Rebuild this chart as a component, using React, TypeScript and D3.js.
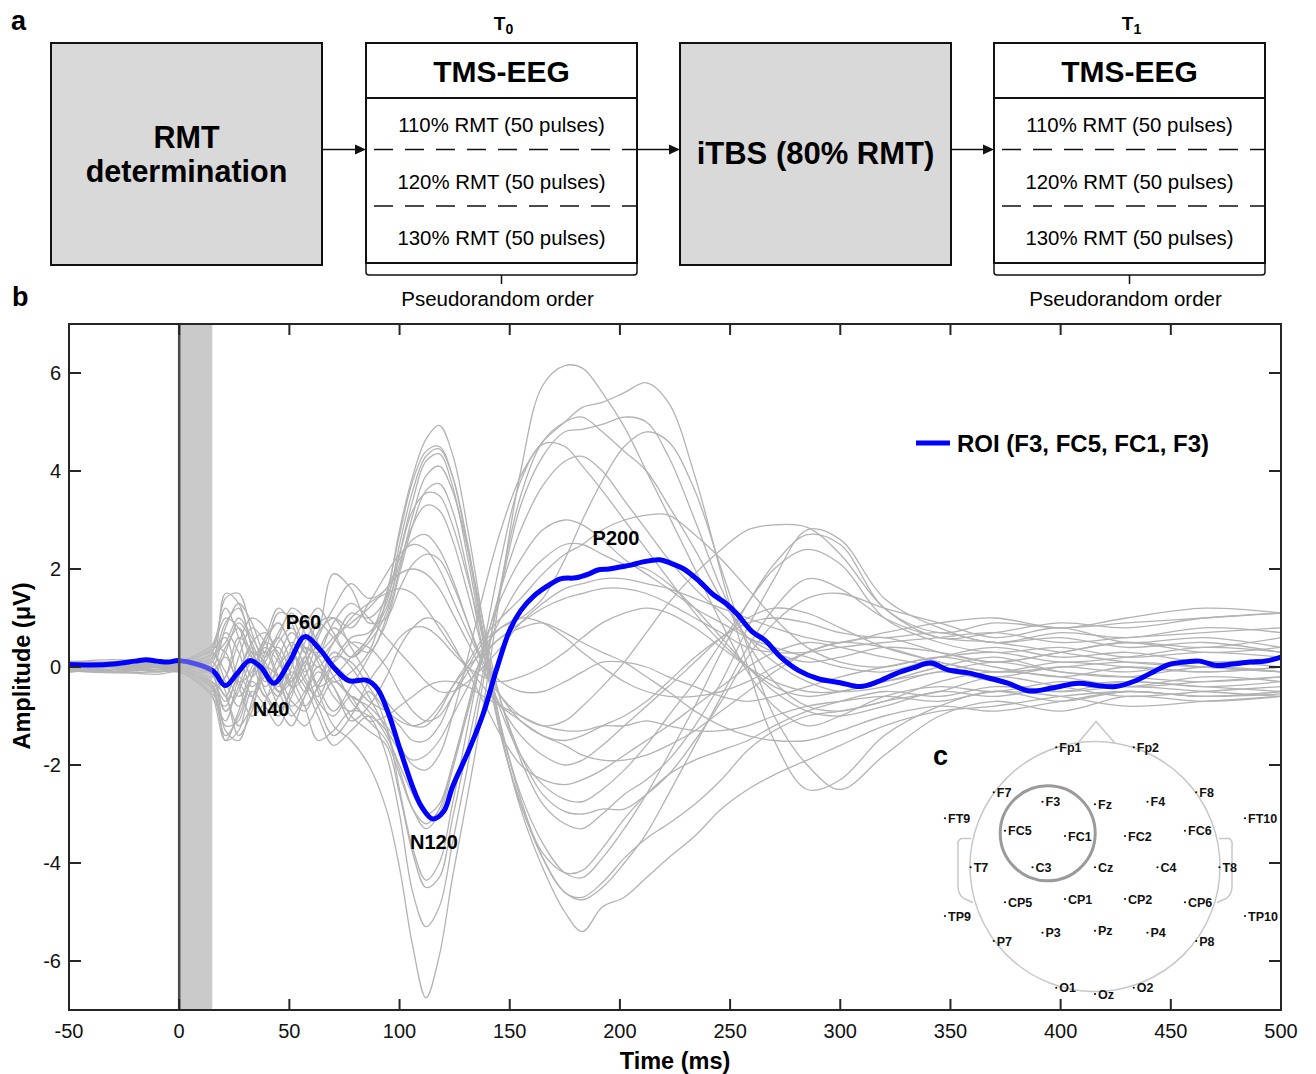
import React from "react";
import * as d3 from "d3";

const W = 1316;
const H = 1074;
const FONT = "'Liberation Sans', Arial, Helvetica, sans-serif";

// ---------- EEG data ----------
const TIMES = [-50, -30, -10, 0, 8, 15, 21, 27, 33, 39, 45, 51, 57, 63, 70, 78, 86, 94, 100, 106, 112, 118, 124, 131, 138, 146, 155, 165, 175, 183, 192, 202, 212, 222, 234, 246, 258, 270, 285, 300, 320, 345, 370, 400, 430, 465, 500];

const channelTraces: number[][] = [
  [0.05,-0.05,0.1,0.05, -0.15,-0.35,-0.9,-0.4,0.3,0.1,-0.5,-0.2,0.4,0.2,-0.3,-0.1,0.3,1.4, 2.8,3.9,4.65,4.93,4.35,2.8,0.9, -1.3,-2.9,-4.1,-5.0,-5.4,-4.9,-4.7,-4.3,-3.9, -3.45,-2.9,-2.5,-2.2,-1.9,-1.6, -1.2,-0.9,-0.8,-0.6,-0.5,-0.6,-0.55],
  [-0.05,0.0,0.08,0.1, 0.1,0.2,0.9,1.2,0.4,-0.3,0.2,0.7,0.3,-0.4,-0.2,0.2,0.6,1.5, 2.7,3.8,4.4,4.5,3.9,2.4,0.6, -1.4,-2.8,-3.9,-4.6,-4.75,-4.5,-4.0,-3.4,-2.6, -1.6,-0.6,0.4,1.2,1.8,1.6, 1.0,0.6,0.5,0.3,0.1,0.0,-0.1],
  [0.1,0.05,-0.05,0.0, -0.2,-0.45,-1.4,-1.0,-0.2,0.5,0.9,0.4,-0.3,-0.6,0.1,0.6,0.7,1.3, 2.5,3.6,4.3,4.45,3.9,2.5,0.7, -1.2,-2.7,-3.9,-4.6,-4.7,-4.4,-3.9,-3.5,-3.2, -2.8,-2.3,-1.7,-1.3,-1.0,-0.9, -0.7,-0.3,-0.1,-0.2,-0.4,-0.3,-0.2],
  [-0.1,-0.05,0.0,-0.05, 0.1,0.3,1.4,1.5,0.7,0.0,-0.5,-0.3,0.5,0.9,0.6,0.2,0.5,1.1, 2.3,3.4,4.2,4.35,3.7,2.2,0.5, -1.2,-2.6,-3.6,-4.2,-4.3,-3.9,-3.3,-2.6,-1.8, -0.8,0.3,1.3,2.1,2.7,2.5, 1.2,0.7,0.9,0.8,0.9,1.0,1.1],
  [0.0,0.1,0.05,0.05, 0.0,-0.1,-0.6,0.2,0.8,0.5,-0.2,-0.8,-0.5,0.3,0.8,0.5,0.3,1.0, 2.0,3.1,3.9,4.1,3.6,2.4,0.9, -0.7,-1.9,-2.8,-3.2,-3.3,-3.0,-2.6,-2.3,-1.9, -1.2,-0.3,0.8,1.8,2.8,2.6, 1.4,0.8,0.5,0.7,0.6,0.8,0.7],
  [0.08,0.0,-0.1,-0.08, -0.3,-0.6,-1.5,-1.3,-0.5,-0.8,-1.2,-0.6,0.1,-0.4,-0.9,-0.4,0.2,0.9, 1.9,2.9,3.6,3.74,3.2,1.9,0.3, -1.4,-2.8,-3.8,-4.2,-4.15,-3.7,-3.1,-2.6,-2.2, -1.9,-1.7,-1.5,-1.2,-0.9,-0.7, -0.5,-0.6,-0.4,-0.5,-0.3,-0.4,-0.3],
  [0.12,0.1,0.15,0.1, 0.25,0.45,1.2,0.6,-0.2,0.3,1.1,1.0,0.4,0.0,0.5,1.1,1.0,1.4, 2.3,3.2,3.55,3.5,2.9,1.8,0.6, -0.7,-1.8,-2.6,-2.95,-3.0,-2.9,-2.9,-2.6,-2.2, -1.5,-0.7,0.2,0.9,1.4,1.5, 1.2,0.9,0.6,0.8,0.5,0.6,0.4],
  [-0.05,0.05,0.0,0.0, -0.1,-0.2,0.3,0.9,0.5,-0.2,-0.6,0.0,0.8,1.2,0.7,0.2,0.6,1.2, 2.1,2.9,3.3,3.2,2.6,1.5,0.3, -0.9,-1.8,-2.4,-2.7,-2.75,-2.5,-2.1,-1.6,-1.0, -0.3,0.5,1.3,2.0,2.4,2.1, 1.0,0.5,0.3,0.4,0.2,0.3,0.2],
  [0.0,-0.08,-0.05,0.0, -0.2,-0.4,-0.2,0.5,1.0,0.8,0.2,-0.4,-0.2,0.6,1.2,1.7,1.4,1.6, 2.2,2.6,2.7,2.4,1.8,0.9,0.0, -0.8,-1.4,-1.8,-2.0,-1.9,-1.6,-1.2,-0.8,-0.4, 0.1,0.6,1.0,1.2,1.1,0.8, 0.4,0.1,-0.1,0.1,0.0,-0.1,0.0],
  [0.05,0.1,0.0,0.05, 0.2,0.4,1.0,0.8,0.2,0.6,1.2,0.9,0.3,0.7,1.9,1.6,0.9,1.0, 1.6,2.1,2.3,2.2,1.7,0.9,0.1, -0.6,-1.1,-1.4,-1.5,-1.4,-1.2,-1.0,-0.7,-0.3, 0.2,0.6,0.9,1.0,0.9,0.7, 0.6,0.7,0.5,0.6,0.4,0.5,0.3],
  [0.0,0.05,-0.1,-0.05, -0.2,-0.4,-1.2,-1.1,-0.3,-0.6,-1.0,-0.4,0.2,-0.5,-1.2,-1.5,-2.0,-2.9, -4.1,-5.7,-6.75,-5.9,-4.3,-2.6,-0.8, 1.6,4.0,5.75,6.15,6.1,5.6,4.9,4.0,3.1, 2.0,0.9,-0.1,-0.8,-1.2,-1.0, -0.6,-0.4,-0.5,-0.3,-0.4,-0.2,-0.3],
  [-0.05,0.0,0.05,0.0, 0.0,0.1,-0.5,-1.4,-0.9,0.1,0.4,-0.2,-0.8,-1.5,-1.3,-0.9,-1.0,-1.8, -3.0,-4.6,-5.3,-4.9,-3.6,-2.0,-0.3, 1.7,3.5,4.6,5.0,5.1,4.8,4.4,4.0,3.3, 2.4,1.4,0.6,0.1,-0.3,-0.5, -0.4,-0.1,-0.3,-0.5,-0.4,-0.5,-0.6],
  [0.1,0.0,0.05,0.08, 0.0,-0.15,-0.9,-0.5,0.1,-0.2,-0.8,-1.2,-0.6,0.0,-0.4,-1.0,-1.3,-1.6, -2.6,-3.8,-4.5,-4.3,-3.1,-1.6,-0.1, 1.6,3.3,4.3,4.8,4.85,4.95,5.1,5.0,4.3, 3.0,1.6,0.5,-0.3,-0.8,-0.9, -0.7,-0.5,-0.2,-0.4,-0.6,-0.5,-0.4],
  [-0.08,-0.1,0.0,-0.1, -0.3,-0.6,-1.1,-0.2,0.4,-0.1,-0.4,0.2,0.6,0.1,-0.6,-0.9,-0.5,-1.2, -2.5,-3.7,-4.35,-4.0,-2.8,-1.2,0.4, 2.2,3.8,4.55,4.5,4.1,3.6,3.0,2.4,1.8, 1.1,0.5,0.0,-0.4,-0.6,-0.5, -0.3,0.0,0.2,-0.1,-0.2,0.0,-0.1],
  [0.05,0.08,0.1,0.05, 0.2,0.35,0.6,-0.3,-0.6,0.2,0.6,0.1,-0.5,-0.3,0.3,0.0,-0.6,-1.3, -2.1,-2.9,-3.3,-3.0,-2.1,-0.9,0.3, 1.6,2.8,3.7,4.2,4.3,4.0,3.4,2.8,2.2, 1.6,1.1,0.6,0.3,0.1,0.2, 0.4,0.3,0.1,0.3,0.5,0.4,0.6],
  [-0.1,-0.05,-0.08,-0.1, -0.25,-0.5,-0.2,0.6,0.3,-0.5,-0.9,-0.5,0.1,0.4,0.0,-0.7,-1.1,-1.5, -2.2,-2.9,-3.2,-2.9,-2.0,-0.8,0.4, 1.4,2.2,2.8,3.0,2.9,2.6,2.2,1.9,1.6, 1.2,0.9,0.6,0.4,0.2,0.0, -0.1,0.2,0.4,0.2,0.3,0.1,0.2],
  [0.0,0.0,0.05,0.02, 0.1,0.15,1.5,1.3,0.4,-0.4,0.0,0.5,0.0,-0.7,-1.0,-0.6,-0.9,-1.4, -2.0,-2.6,-3.0,-2.8,-2.0,-0.9,0.2, 1.0,1.7,2.2,2.5,2.5,2.3,2.1,2.0,1.7, 1.2,0.6,0.0,-0.5,-0.9,-1.0, -0.8,-0.5,-0.6,-0.4,-0.3,-0.4,-0.5],
  [0.05,0.0,0.0,0.05, 0.0,-0.1,0.4,0.8,0.2,-0.6,-0.3,0.4,0.9,0.5,-0.2,-0.6,-0.8,-1.2, -1.6,-2.0,-2.1,-1.8,-1.0,0.2,1.5, 2.8,3.9,4.6,5.0,5.3,5.4,5.6,5.8,5.4, 3.9,1.9,0.0,-1.5,-2.5,-2.3, -1.4,-0.8,-0.5,-0.7,-0.5,-0.6,-0.5],
  [-0.05,-0.1,-0.05,-0.05, -0.2,-0.3,-0.7,-0.1,0.5,0.7,0.2,-0.4,-0.8,-0.4,0.2,0.1,-0.4,-0.9, -1.2,-1.5,-1.5,-1.2,-0.6,0.0,0.5, 0.8,1.0,1.4,2.2,3.0,3.8,4.5,4.8,4.6, 3.6,2.0,0.4,-1.0,-2.0,-2.5, -1.8,-1.0,-0.7,-0.9,-0.6,-0.7,-0.6],
  [0.1,0.05,0.1,0.12, 0.2,0.3,-0.3,-0.8,-0.2,0.5,0.3,-0.3,0.2,0.9,1.0,0.4,-0.2,-0.7, -1.0,-1.2,-1.2,-0.9,-0.4,0.1,0.6, 1.0,1.4,1.9,2.3,2.5,2.8,3.0,3.1,3.1, 2.7,2.2,1.6,1.0,0.4,0.1, 0.0,0.2,0.0,-0.2,0.0,-0.1,0.0],
  [0.0,0.05,0.05,0.0, 0.05,0.1,0.7,0.3,-0.4,-0.1,0.5,0.8,0.4,0.3,0.6,0.9,1.2,1.6, 1.9,2.0,1.9,1.6,1.1,0.5,-0.1, -0.6,-1.0,-1.2,-1.1,-0.8,-0.4,0.1,0.7,1.3, 1.9,2.4,2.8,2.9,2.85,2.3, 1.2,0.6,0.7,0.9,0.8,1.0,1.1],
  [-0.05,-0.1,-0.15,-0.1, -0.3,-0.55,-0.8,-0.2,-0.6,-1.0,-0.6,-0.1,-0.4,-1.0,-1.6,-1.3,-1.0,-1.3, -1.7,-1.9,-1.8,-1.5,-1.0,-0.4,0.2, 0.6,0.8,0.9,0.7,0.5,0.3,0.1,-0.2,-0.5, -0.9,-1.2,-1.4,-1.5,-1.5,-1.3, -1.0,-0.8,-0.9,-0.7,-0.5,-0.6,-0.5],
  [0.05,0.1,0.05,0.08, 0.15,0.25,0.5,1.0,0.6,0.2,0.7,1.1,0.7,0.2,0.5,1.0,1.3,1.5, 1.6,1.5,1.2,0.8,0.4,0.0,-0.4, -0.8,-1.1,-1.4,-1.6,-1.8,-1.9,-1.9,-1.8,-1.6, -1.3,-0.9,-0.5,-0.1,0.3,0.5, 0.6,0.3,0.1,0.3,0.5,0.3,0.4],
  [-0.1,-0.05,0.0,-0.05, -0.1,-0.15,-1.3,-1.5,-0.7,0.0,-0.2,-0.7,-0.9,-0.4,0.0,-0.3,-0.7,-0.9, -1.1,-1.2,-1.1,-0.8,-0.4,0.0,0.3, 0.6,0.9,1.2,1.4,1.5,1.6,1.6,1.5,1.3, 1.0,0.7,0.4,0.3,0.3,0.4, 0.5,0.6,0.7,0.5,0.6,0.7,0.8],
  [0.02,0.0,-0.05,0.0, -0.05,-0.1,0.2,-0.4,-1.0,-0.7,0.0,0.3,-0.2,-0.8,-1.4,-1.0,-0.3,0.2, 0.6,0.8,0.8,0.6,0.3,0.0,-0.2, -0.3,-0.2,0.0,0.3,0.6,0.9,1.1,1.2,1.1, 0.8,0.4,0.0,-0.3,-0.5,-0.5, -0.3,-0.1,0.1,-0.1,-0.2,-0.3,-0.2],
  [0.1,0.15,0.1,0.12, 0.25,0.4,0.3,-0.3,-0.1,0.6,0.9,0.4,-0.1,0.2,0.9,1.3,1.0,0.6, 0.3,0.0,-0.3,-0.5,-0.5,-0.3,0.0, 0.4,0.9,1.3,1.6,1.7,1.8,1.8,1.7,1.6, 1.4,1.2,1.0,0.8,0.6,0.5, 0.7,0.9,1.0,0.8,1.0,1.2,1.1],
  [-0.08,-0.12,-0.1,-0.08, -0.2,-0.35,-1.5,-0.9,0.0,0.3,-0.3,-0.9,-1.2,-0.8,-0.3,-0.6,-1.1,-1.0, -0.8,-0.6,-0.4,-0.3,-0.3,-0.4,-0.6, -0.8,-1.0,-1.2,-1.3,-1.3,-1.2,-1.2,-1.1,-1.2, -1.3,-1.3,-1.2,-1.0,-0.8,-0.7, -0.6,-0.7,-0.5,-0.6,-0.8,-0.7,-0.6],
  [0.05,0.0,0.1,0.1, 0.2,0.3,-0.1,-0.6,-0.2,0.4,0.1,-0.4,0.0,0.7,1.0,0.8,1.3,1.9, 2.3,2.5,2.4,2.0,1.4,0.7,0.1, -0.3,-0.5,-0.5,-0.3,-0.1,0.1,0.1,0.0,-0.2, -0.4,-0.6,-0.7,-0.6,-0.4,-0.2, 0.0,0.2,0.3,0.1,0.2,0.4,0.3],
  [-0.02,0.05,-0.05,-0.05, -0.15,-0.3,-0.6,-1.2,-0.8,-0.2,-0.5,-1.0,-0.6,-0.1,-0.4,-1.1,-0.8,-0.2, 0.4,0.8,1.0,0.9,0.5,-0.1,-0.7, -1.4,-2.0,-2.3,-2.4,-2.3,-2.1,-1.8,-1.5,-1.2, -0.8,-0.4,0.0,0.3,0.5,0.4, 0.2,0.0,-0.2,0.0,-0.1,0.1,0.0],
  [0.0,-0.05,0.05,0.03, 0.0,0.0,0.8,1.3,0.9,0.3,0.6,1.2,1.0,0.4,0.1,0.5,0.4,0.0, -0.5,-0.9,-1.1,-1.0,-0.6,-0.1,0.4, 0.8,1.0,0.9,0.6,0.3,0.0,-0.3,-0.5,-0.6, -0.6,-0.5,-0.3,0.0,0.3,0.5, 0.4,0.1,-0.1,0.0,0.1,0.0,-0.1],
];

const roiTimes = [-50,-40,-30,-20,-15,-10,-5,0,15,21,26,32,37,43,50,57,64,70,77,85,90,95,100,106,110,115,120,124,132,138,144,150,155,161,167,173,180,186,190,195,200,205,210,218,223,229,236,242,248,253,260,266,273,281,290,300,309,317,325,333,341,349,358,367,376,386,396,408,417,425,434,442,449,456,463,471,478,486,493,500];
const roiValues = [0.05,0.04,0.06,0.12,0.15,0.12,0.1,0.13,-0.07,-0.38,-0.15,0.13,0.0,-0.33,0.1,0.62,0.35,0.0,-0.28,-0.27,-0.45,-0.95,-1.65,-2.45,-2.85,-3.1,-2.95,-2.45,-1.64,-0.95,-0.05,0.75,1.15,1.45,1.65,1.8,1.82,1.9,1.98,2.0,2.04,2.08,2.14,2.19,2.12,2.0,1.75,1.49,1.3,1.09,0.72,0.54,0.2,-0.07,-0.24,-0.32,-0.4,-0.3,-0.14,-0.02,0.08,-0.06,-0.12,-0.22,-0.33,-0.49,-0.43,-0.33,-0.38,-0.4,-0.28,-0.1,0.05,0.1,0.12,0.03,0.06,0.1,0.12,0.2];

const xTicks = [-50, 0, 50, 100, 150, 200, 250, 300, 350, 400, 450, 500];
const yTicks = [-6, -4, -2, 0, 2, 4, 6];
const pulseWindow = [0, 15];

const peakNames = ["N40", "P60", "N120", "P200"];
const peakTimes = [41.7, 56.4, 115.6, 198.2];
const peakValues = [-0.99, 0.78, -3.71, 2.5];

const legendLabel = "ROI (F3, FC5, FC1, F3)";

// ---------- protocol diagram ----------
const intensityRows = ["110% RMT (50 pulses)", "120% RMT (50 pulses)", "130% RMT (50 pulses)"];
const sessionNames = ["0", "1"];

// ---------- electrode layout (head-radius units) ----------
const electrodeNames = ["Fp1","Fp2","F7","F3","Fz","F4","F8","FT9","FC5","FC1","FC2","FC6","FT10","T7","C3","Cz","C4","T8","CP5","CP1","CP2","CP6","TP9","TP10","P7","P3","Pz","P4","P8","O1","Oz","O2"];
const electrodeX = [-0.31,0.31,-0.81,-0.42,0.0,0.42,0.81,-1.2,-0.72,-0.24,0.24,0.72,1.2,-0.995,-0.5,0.0,0.5,0.995,-0.72,-0.24,0.24,0.72,-1.2,1.2,-0.81,-0.42,0.0,0.42,0.81,-0.31,0.0,0.31];
const electrodeY = [-0.954,-0.954,-0.594,-0.518,-0.498,-0.518,-0.594,-0.386,-0.286,-0.244,-0.244,-0.286,-0.386,0.006,0.006,0.006,0.006,0.006,0.286,0.26,0.26,0.286,0.396,0.396,0.596,0.53,0.514,0.53,0.596,0.97,1.02,0.97];

export default function App() {
  const x = d3.scaleLinear().domain([-50, 500]).range([69, 1281]);
  const y = d3.scaleLinear().domain([-7, 7]).range([1010, 324]);
  const [x0, x1] = x.range();
  const [yB, yT] = y.range();

  const traceLine = d3
    .line<number>()
    .x((_, i) => x(TIMES[i]))
    .y((d) => y(d))
    .curve(d3.curveCatmullRom.alpha(0.5));
  const roiLine = d3
    .line<number>()
    .x((_, i) => x(roiTimes[i]))
    .y((d) => y(d))
    .curve(d3.curveCatmullRom.alpha(0.5));

  // diagram geometry
  const boxTop = 43;
  const boxBottom = 265;
  const boxW = 271;
  const boxXs = [51, 366, 680, 994];
  const arrowY = 149.5;
  const headerY = 98;
  const dashYs = [149.5, 206];
  const rowBaselines = [132, 189, 245];

  // head geometry
  const hcx = 1095;
  const hcy = 866.5;
  const hr = 125;

  const arrow = (from: number, to: number, key: string) => (
    <g key={key}>
      <line x1={from} y1={arrowY} x2={to - 9} y2={arrowY} stroke="#111" strokeWidth={1.5} />
      <path d={`M${to},${arrowY} L${to - 11},${arrowY - 5} L${to - 11},${arrowY + 5} Z`} fill="#111" />
    </g>
  );

  const tmsBox = (bx: number, idx: number) => {
    const cx = bx + boxW / 2;
    const bl = bx;
    const br = bx + boxW;
    return (
      <g key={`tms${idx}`}>
        <text x={cx + 2} y={30} textAnchor="middle" fontFamily={FONT} fontWeight="bold" fontSize={19}>
          T<tspan fontSize={14} dy={4}>{sessionNames[idx]}</tspan>
        </text>
        <rect x={bl} y={boxTop} width={boxW} height={boxBottom - boxTop - 2} fill="#fff" stroke="#111" strokeWidth={2} />
        <line x1={bl} x2={br} y1={headerY} y2={headerY} stroke="#111" strokeWidth={2} />
        {dashYs.map((dy, i) => (
          <line key={i} x1={bl} x2={br} y1={dy} y2={dy} stroke="#111" strokeWidth={1.5} strokeDasharray="19,12" strokeDashoffset={-8} />
        ))}
        <text x={cx} y={81.5} textAnchor="middle" fontFamily={FONT} fontWeight="bold" fontSize={30}>TMS-EEG</text>
        {intensityRows.map((r, i) => (
          <text key={r} x={cx} y={rowBaselines[i]} textAnchor="middle" fontFamily={FONT} fontSize={20.4}>{r}</text>
        ))}
        <path
          d={`M${bl},${boxBottom - 1} L${bl},${272} Q${bl},${275} ${bl + 3},${275} L${br - 3},${275} Q${br},${275} ${br},${272} L${br},${boxBottom - 1} M${cx},${275} L${cx},${284}`}
          fill="none"
          stroke="#111"
          strokeWidth={1.5}
        />
        <text x={cx - 4} y={306} textAnchor="middle" fontFamily={FONT} fontSize={20.5}>Pseudorandom order</text>
      </g>
    );
  };

  return (
    <svg
      width={W}
      height={H}
      viewBox={`0 0 ${W} ${H}`}
      style={{ position: "absolute", left: 0, top: 0, background: "#fff" }}
    >
      <rect x={0} y={0} width={W} height={H} fill="#fff" />
      <defs>
        <clipPath id="plotClip">
          <rect x={x0} y={yT} width={x1 - x0} height={yB - yT} />
        </clipPath>
      </defs>

      {/* ---------- panel a ---------- */}
      <text x={11} y={30} fontFamily={FONT} fontWeight="bold" fontSize={27}>a</text>
      <rect x={boxXs[0]} y={boxTop} width={boxW} height={boxBottom - boxTop} fill="#d9d9d9" stroke="#111" strokeWidth={2} />
      <text x={boxXs[0] + boxW / 2} y={148} textAnchor="middle" fontFamily={FONT} fontWeight="bold" fontSize={30.5}>RMT</text>
      <text x={boxXs[0] + boxW / 2} y={182} textAnchor="middle" fontFamily={FONT} fontWeight="bold" fontSize={30.5}>determination</text>
      {tmsBox(boxXs[1], 0)}
      <rect x={boxXs[2]} y={boxTop} width={boxW} height={boxBottom - boxTop} fill="#d9d9d9" stroke="#111" strokeWidth={2} />
      <text x={boxXs[2] + boxW / 2} y={164} textAnchor="middle" fontFamily={FONT} fontWeight="bold" fontSize={31}>iTBS (80% RMT)</text>
      {tmsBox(boxXs[3], 1)}
      {arrow(boxXs[0] + boxW, boxXs[1], "a1")}
      {arrow(boxXs[1] + boxW, boxXs[2], "a2")}
      {arrow(boxXs[2] + boxW, boxXs[3], "a3")}

      {/* ---------- panel b ---------- */}
      <text x={12} y={306} fontFamily={FONT} fontWeight="bold" fontSize={27}>b</text>

      <g clipPath="url(#plotClip)">
        <rect x={x(pulseWindow[0])} y={yT} width={x(pulseWindow[1]) - x(pulseWindow[0])} height={yB - yT} fill="#cacaca" />
        {channelTraces.map((tr, i) => (
          <path key={i} d={traceLine(tr) || ""} fill="none" stroke="#b3b3b3" strokeWidth={1.3} />
        ))}
        <path d={roiLine(roiValues) || ""} fill="none" stroke="#0000ff" strokeWidth={5} strokeLinejoin="round" />
        <rect x={x(pulseWindow[0])} y={yT} width={x(pulseWindow[1]) - x(pulseWindow[0])} height={yB - yT} fill="#cacaca" opacity={0.4} />
        <line x1={x(0)} x2={x(0)} y1={yT} y2={yB} stroke="#4a4a4a" strokeWidth={2.5} />
      </g>

      {/* frame and ticks */}
      <rect x={x0} y={yT} width={x1 - x0} height={yB - yT} fill="none" stroke="#262626" strokeWidth={2} />
      {xTicks.map((t) => (
        <g key={`xt${t}`}>
          <line x1={x(t)} x2={x(t)} y1={yB} y2={yB - 11} stroke="#262626" strokeWidth={2} />
          <line x1={x(t)} x2={x(t)} y1={yT} y2={yT + 11} stroke="#262626" strokeWidth={2} />
          <text x={x(t)} y={1038} textAnchor="middle" fontFamily={FONT} fontSize={20} fill="#111">{t}</text>
        </g>
      ))}
      {yTicks.map((v) => (
        <g key={`yt${v}`}>
          <line x1={x0} x2={x0 + 12} y1={y(v)} y2={y(v)} stroke="#262626" strokeWidth={2} />
          <line x1={x1} x2={x1 - 12} y1={y(v)} y2={y(v)} stroke="#262626" strokeWidth={2} />
          <text x={61} y={y(v) + 7} textAnchor="end" fontFamily={FONT} fontSize={20} fill="#111">{v}</text>
        </g>
      ))}
      <text x={675} y={1069} textAnchor="middle" fontFamily={FONT} fontWeight="bold" fontSize={23.5}>Time (ms)</text>
      <text transform={`translate(30,${y(0) - 1}) rotate(-90)`} textAnchor="middle" fontFamily={FONT} fontWeight="bold" fontSize={23.5}>Amplitude (μV)</text>

      {/* peak annotations */}
      {peakNames.map((n, i) => (
        <text key={n} x={x(peakTimes[i])} y={y(peakValues[i])} textAnchor="middle" fontFamily={FONT} fontWeight="bold" fontSize={20}>{n}</text>
      ))}

      {/* legend */}
      <line x1={916} x2={950} y1={443} y2={443} stroke="#0000ff" strokeWidth={5} />
      <text x={957} y={451.5} fontFamily={FONT} fontWeight="bold" fontSize={24}>{legendLabel}</text>

      {/* ---------- panel c: electrode layout ---------- */}
      <text x={933} y={765} fontFamily={FONT} fontWeight="bold" fontSize={27}>c</text>
      <g fill="none" stroke="#c8c8c8" strokeWidth={1.5}>
        <circle cx={hcx} cy={hcy} r={hr} />
        <path d={`M${hcx - 17},${hcy - hr + 1.5} L${hcx + 1},${hcy - hr - 20} L${hcx + 20},${hcy - hr + 1.8}`} />
        <path d={`M${hcx - hr + 1},${hcy - 28} L${hcx - hr - 9},${hcy - 28} Q${hcx - hr - 13},${hcy - 26} ${hcx - hr - 12},${hcy - 20} L${hcx - hr - 12},${hcy + 20} Q${hcx - hr - 12},${hcy + 28} ${hcx - hr - 6},${hcy + 32} L${hcx - hr + 3},${hcy + 36}`} />
        <path d={`M${hcx + hr - 1},${hcy - 28} L${hcx + hr + 9},${hcy - 28} Q${hcx + hr + 13},${hcy - 26} ${hcx + hr + 12},${hcy - 20} L${hcx + hr + 12},${hcy + 20} Q${hcx + hr + 12},${hcy + 28} ${hcx + hr + 6},${hcy + 32} L${hcx + hr - 3},${hcy + 36}`} />
      </g>
      <circle cx={1047.7} cy={833.3} r={47.5} fill="none" stroke="#9a9a9a" strokeWidth={3} />
      {electrodeNames.map((n, i) => {
        const ex = hcx + electrodeX[i] * hr;
        const ey = hcy + electrodeY[i] * hr;
        return (
          <g key={n}>
            <circle cx={ex} cy={ey} r={1.1} fill="#111" />
            <text x={ex + 3} y={ey + 4.5} fontFamily={FONT} fontWeight="bold" fontSize={12.5} fill="#111">{n}</text>
          </g>
        );
      })}
    </svg>
  );
}
